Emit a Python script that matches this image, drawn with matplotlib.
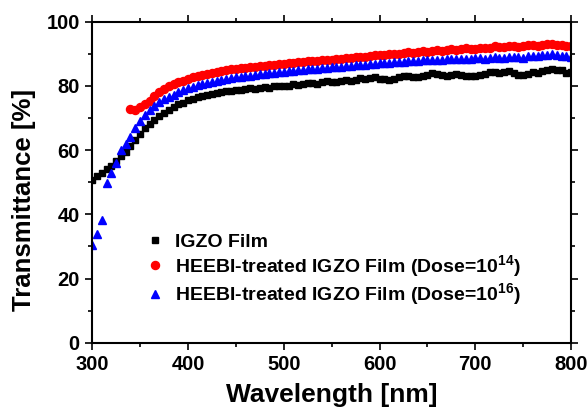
import matplotlib
matplotlib.use('Agg')
import matplotlib.pyplot as plt
from matplotlib.ticker import MultipleLocator

plt.rcParams['font.family'] = ['Liberation Sans', 'DejaVu Sans']
plt.rcParams['font.weight'] = 'bold'
plt.rcParams['mathtext.fontset'] = 'custom'
plt.rcParams['mathtext.rm'] = 'Liberation Sans:bold'
plt.rcParams['mathtext.it'] = 'Liberation Sans:bold'
plt.rcParams['mathtext.bf'] = 'Liberation Sans:bold'

# 데이터 (5 nm 간격)
wl_igzo = list(range(300, 805, 5))
t_igzo = [50.6, 52.0, 53.0, 54.0, 55.0, 56.5, 58.0, 59.5, 61.2, 63.2,
          65.0, 66.8, 68.2, 69.5, 70.7, 71.6, 72.5, 73.3, 74.2, 74.8,
          75.5, 76.0, 76.5, 76.8, 77.2, 77.6, 77.7, 78.0, 78.3, 78.4,
          78.6, 78.6, 78.9, 79.2, 79.1, 79.4, 79.6, 79.4, 79.8, 80.1,
          80.0, 80.1, 80.5, 80.3, 80.6, 81.0, 80.8, 80.7, 81.1, 81.4,
          81.2, 81.1, 81.5, 81.9, 81.6, 81.8, 82.3, 82.0, 82.3, 82.6,
          82.2, 82.0, 81.8, 82.1, 82.6, 83.0, 83.1, 82.8, 82.6, 83.1,
          83.5, 84.0, 83.8, 83.5, 83.2, 83.3, 83.6, 83.5, 83.2, 83.0,
          83.0, 83.3, 83.7, 84.2, 84.3, 84.0, 84.3, 84.5, 83.9, 83.5,
          83.4, 83.8, 84.2, 84.0, 84.5, 85.0, 85.2, 84.8, 85.0, 84.0,
          84.2]

wl_d14 = list(range(340, 805, 5))
t_d14 = [72.8, 72.5, 73.3, 74.2, 75.3, 76.8, 78.0, 79.0, 79.8, 80.5,
         81.1, 81.6, 82.1, 82.6, 83.0, 83.4, 83.8, 84.1, 84.4, 84.6,
         84.9, 85.1, 85.3, 85.5, 85.6, 85.8, 86.0, 86.1, 86.3, 86.4,
         86.6, 86.8, 86.9, 87.0, 87.2, 87.3, 87.4, 87.6, 87.6, 87.8,
         88.0, 88.0, 88.2, 88.3, 88.5, 88.6, 88.7, 88.9, 89.0, 89.0,
         89.3, 89.5, 89.5, 89.6, 89.9, 90.0, 89.9, 90.2, 90.4, 90.3,
         90.6, 90.8, 90.6, 90.9, 91.2, 91.0, 91.2, 91.5, 91.3, 91.4,
         91.7, 91.5, 91.6, 91.9, 91.8, 91.9, 92.3, 92.1, 92.0, 92.4,
         92.5, 92.2, 92.3, 92.6, 92.8, 92.5, 92.7, 93.0, 93.1, 92.8,
         92.6, 92.4, 92.3]

wl_d16 = list(range(300, 805, 5))
t_d16 = [30.5, 33.9, 38.2, 49.7, 52.8, 55.9, 60.0, 62.0, 64.1, 66.8,
         69.0, 70.8, 72.4, 73.7, 74.9, 75.8, 76.6, 77.3, 78.0, 78.6,
         79.2, 79.7, 80.2, 80.6, 81.0, 81.3, 81.6, 81.9, 82.2, 82.4,
         82.6, 82.8, 83.0, 83.2, 83.4, 83.6, 83.8, 83.9, 84.1, 84.2,
         84.4, 84.5, 84.7, 84.8, 85.0, 85.1, 85.2, 85.4, 85.5, 85.6,
         85.8, 85.9, 86.0, 86.2, 86.3, 86.4, 86.5, 86.6, 86.8, 86.9,
         87.0, 87.1, 87.2, 87.4, 87.3, 87.5, 87.6, 87.7, 87.7, 87.9,
         88.0, 88.1, 88.0, 88.2, 88.3, 88.3, 88.4, 88.5, 88.3, 88.4,
         88.6, 88.7, 88.5, 88.8, 88.9, 88.8, 88.7, 89.0, 89.1, 88.9,
         88.8, 89.2, 89.3, 89.2, 89.5, 89.7, 89.9, 89.6, 89.4, 89.2,
         89.1]

labels = ['IGZO Film',
          r'HEEBI-treated IGZO Film (Dose=10$^{14}$)',
          r'HEEBI-treated IGZO Film (Dose=10$^{16}$)']

fig = plt.figure(figsize=(5.87, 4.08), dpi=100)
ax = fig.add_axes([0.157, 0.16, 0.816, 0.787])

ax.plot(wl_igzo, t_igzo, 's', color='black', markersize=5, label=labels[0])
ax.plot(wl_d14, t_d14, 'o', color='red', markersize=5.8, label=labels[1])
ax.plot(wl_d16, t_d16, '^', color='blue', markersize=6, label=labels[2])

ax.set_xlim(300, 800)
ax.set_ylim(0, 100)
ax.xaxis.set_major_locator(MultipleLocator(100))
ax.xaxis.set_minor_locator(MultipleLocator(50))
ax.yaxis.set_major_locator(MultipleLocator(20))
ax.yaxis.set_minor_locator(MultipleLocator(10))
ax.tick_params(which='both', direction='out', top=True, right=True, width=1.2)
ax.tick_params(which='major', length=5, labelsize=14.5, pad=4)
ax.tick_params(which='minor', length=3)
ax.tick_params(top=True, right=True, labeltop=False, labelright=False)
for s in ax.spines.values():
    s.set_linewidth(1.5)

ax.set_xlabel('Wavelength [nm]', fontsize=19, fontweight='bold', labelpad=6.5)
ax.set_ylabel('Transmittance [%]', fontsize=18.5, fontweight='bold')
ax.yaxis.set_label_coords(-0.118, 0.445)

ax.legend(loc='upper left', bbox_to_anchor=(0.095, 0.365), frameon=False,
          fontsize=14, handletextpad=0.5, labelspacing=0.12, handlelength=1.0,
          borderaxespad=0)

fig.savefig('out.png', dpi=100)
